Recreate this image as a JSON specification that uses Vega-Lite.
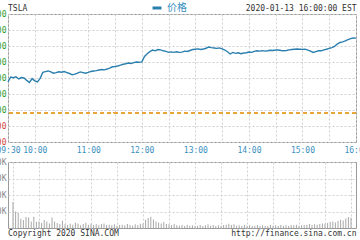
{
"$schema": "https://vega.github.io/schema/vega-lite/v6.json",
"background": "white",
"padding": {"left": -24, "right": -7, "top": 2, "bottom": 0},
"spacing": 2,
"title": {"text": "2020-01-13 16:00:00 EST", "anchor": "end", "offset": -10.5, "dx": -12},
"config": {
  "font": "DejaVu Sans Mono",
  "view": {"stroke": "#9a9a9a", "strokeWidth": 1},
  "axis": {"labelFont": "DejaVu Sans Mono", "labelFontSize": 8, "titleFont": "DejaVu Sans Mono", "titleFontSize": 8, "titleFontWeight": "normal", "titleColor": "#333333", "domain": false, "ticks": false, "gridColor": "#d0d0d0", "gridDash": [2, 2], "gridWidth": 1, "labelOverlap": false, "labelBound": false, "labelFlush": false},
  "title": {"font": "DejaVu Sans Mono", "fontSize": 8, "fontWeight": "normal", "color": "#333333"}
},
"data": {"values": [
{"t":"2020-01-13T09:30:00","p":497.5,"v":790},
{"t":"2020-01-13T09:33:00","p":500.6,"v":500},
{"t":"2020-01-13T09:36:00","p":500.2,"v":455},
{"t":"2020-01-13T09:39:00","p":500.8,"v":280},
{"t":"2020-01-13T09:42:00","p":499.4,"v":240},
{"t":"2020-01-13T09:45:00","p":500.3,"v":330},
{"t":"2020-01-13T09:48:00","p":500.0,"v":320},
{"t":"2020-01-13T09:51:00","p":498.5,"v":200},
{"t":"2020-01-13T09:54:00","p":497.2,"v":340},
{"t":"2020-01-13T09:57:00","p":499.6,"v":190},
{"t":"2020-01-13T10:00:00","p":498.2,"v":200},
{"t":"2020-01-13T10:03:00","p":497.5,"v":150},
{"t":"2020-01-13T10:06:00","p":499.8,"v":240},
{"t":"2020-01-13T10:09:00","p":503.5,"v":200},
{"t":"2020-01-13T10:12:00","p":504.0,"v":140},
{"t":"2020-01-13T10:15:00","p":504.4,"v":320},
{"t":"2020-01-13T10:18:00","p":503.8,"v":200},
{"t":"2020-01-13T10:21:00","p":503.0,"v":150},
{"t":"2020-01-13T10:24:00","p":503.4,"v":120},
{"t":"2020-01-13T10:27:00","p":503.9,"v":220},
{"t":"2020-01-13T10:30:00","p":503.6,"v":110},
{"t":"2020-01-13T10:33:00","p":504.0,"v":90},
{"t":"2020-01-13T10:36:00","p":503.4,"v":130},
{"t":"2020-01-13T10:39:00","p":502.8,"v":100},
{"t":"2020-01-13T10:42:00","p":502.0,"v":170},
{"t":"2020-01-13T10:45:00","p":502.4,"v":140},
{"t":"2020-01-13T10:48:00","p":503.1,"v":80},
{"t":"2020-01-13T10:51:00","p":503.8,"v":120},
{"t":"2020-01-13T10:54:00","p":503.4,"v":160},
{"t":"2020-01-13T10:57:00","p":503.0,"v":100},
{"t":"2020-01-13T11:00:00","p":503.5,"v":130},
{"t":"2020-01-13T11:03:00","p":504.1,"v":90},
{"t":"2020-01-13T11:06:00","p":504.4,"v":110},
{"t":"2020-01-13T11:09:00","p":504.6,"v":80},
{"t":"2020-01-13T11:12:00","p":505.0,"v":120},
{"t":"2020-01-13T11:15:00","p":505.3,"v":140},
{"t":"2020-01-13T11:18:00","p":505.1,"v":90},
{"t":"2020-01-13T11:21:00","p":505.6,"v":100},
{"t":"2020-01-13T11:24:00","p":506.2,"v":80},
{"t":"2020-01-13T11:27:00","p":507.0,"v":110},
{"t":"2020-01-13T11:30:00","p":507.2,"v":70},
{"t":"2020-01-13T11:33:00","p":507.5,"v":90},
{"t":"2020-01-13T11:36:00","p":508.0,"v":100},
{"t":"2020-01-13T11:39:00","p":508.6,"v":80},
{"t":"2020-01-13T11:42:00","p":508.9,"v":120},
{"t":"2020-01-13T11:45:00","p":509.4,"v":90},
{"t":"2020-01-13T11:48:00","p":509.1,"v":70},
{"t":"2020-01-13T11:51:00","p":509.6,"v":110},
{"t":"2020-01-13T11:54:00","p":510.0,"v":90},
{"t":"2020-01-13T11:57:00","p":509.8,"v":130},
{"t":"2020-01-13T12:00:00","p":510.1,"v":140},
{"t":"2020-01-13T12:03:00","p":513.5,"v":250},
{"t":"2020-01-13T12:06:00","p":515.2,"v":300},
{"t":"2020-01-13T12:09:00","p":516.5,"v":340},
{"t":"2020-01-13T12:12:00","p":517.5,"v":260},
{"t":"2020-01-13T12:15:00","p":517.0,"v":200},
{"t":"2020-01-13T12:18:00","p":517.8,"v":170},
{"t":"2020-01-13T12:21:00","p":517.6,"v":140},
{"t":"2020-01-13T12:24:00","p":517.0,"v":180},
{"t":"2020-01-13T12:27:00","p":516.6,"v":120},
{"t":"2020-01-13T12:30:00","p":516.0,"v":110},
{"t":"2020-01-13T12:33:00","p":516.3,"v":90},
{"t":"2020-01-13T12:36:00","p":516.0,"v":120},
{"t":"2020-01-13T12:39:00","p":516.4,"v":80},
{"t":"2020-01-13T12:42:00","p":516.0,"v":70},
{"t":"2020-01-13T12:45:00","p":516.2,"v":90},
{"t":"2020-01-13T12:48:00","p":516.8,"v":60},
{"t":"2020-01-13T12:51:00","p":516.6,"v":100},
{"t":"2020-01-13T12:54:00","p":517.2,"v":70},
{"t":"2020-01-13T12:57:00","p":517.8,"v":80},
{"t":"2020-01-13T13:00:00","p":518.0,"v":60},
{"t":"2020-01-13T13:03:00","p":518.2,"v":70},
{"t":"2020-01-13T13:06:00","p":517.8,"v":90},
{"t":"2020-01-13T13:09:00","p":518.1,"v":60},
{"t":"2020-01-13T13:12:00","p":518.6,"v":80},
{"t":"2020-01-13T13:15:00","p":519.4,"v":110},
{"t":"2020-01-13T13:18:00","p":519.0,"v":70},
{"t":"2020-01-13T13:21:00","p":518.75,"v":90},
{"t":"2020-01-13T13:24:00","p":518.5,"v":60},
{"t":"2020-01-13T13:27:00","p":518.8,"v":80},
{"t":"2020-01-13T13:30:00","p":518.2,"v":70},
{"t":"2020-01-13T13:33:00","p":517.5,"v":90},
{"t":"2020-01-13T13:36:00","p":516.4,"v":100},
{"t":"2020-01-13T13:39:00","p":515.0,"v":130},
{"t":"2020-01-13T13:42:00","p":516.0,"v":90},
{"t":"2020-01-13T13:45:00","p":515.4,"v":110},
{"t":"2020-01-13T13:48:00","p":515.8,"v":70},
{"t":"2020-01-13T13:51:00","p":515.2,"v":80},
{"t":"2020-01-13T13:54:00","p":515.6,"v":60},
{"t":"2020-01-13T13:57:00","p":515.8,"v":90},
{"t":"2020-01-13T14:00:00","p":516.2,"v":70},
{"t":"2020-01-13T14:03:00","p":516.0,"v":80},
{"t":"2020-01-13T14:06:00","p":516.6,"v":60},
{"t":"2020-01-13T14:09:00","p":517.0,"v":70},
{"t":"2020-01-13T14:12:00","p":516.8,"v":90},
{"t":"2020-01-13T14:15:00","p":517.1,"v":60},
{"t":"2020-01-13T14:18:00","p":516.8,"v":80},
{"t":"2020-01-13T14:21:00","p":517.0,"v":70},
{"t":"2020-01-13T14:24:00","p":517.3,"v":60},
{"t":"2020-01-13T14:27:00","p":517.2,"v":90},
{"t":"2020-01-13T14:30:00","p":517.5,"v":70},
{"t":"2020-01-13T14:33:00","p":517.5,"v":80},
{"t":"2020-01-13T14:36:00","p":517.2,"v":60},
{"t":"2020-01-13T14:39:00","p":517.0,"v":90},
{"t":"2020-01-13T14:42:00","p":517.2,"v":70},
{"t":"2020-01-13T14:45:00","p":517.6,"v":80},
{"t":"2020-01-13T14:48:00","p":517.8,"v":60},
{"t":"2020-01-13T14:51:00","p":518.0,"v":90},
{"t":"2020-01-13T14:54:00","p":518.1,"v":80},
{"t":"2020-01-13T14:57:00","p":518.0,"v":100},
{"t":"2020-01-13T15:00:00","p":517.9,"v":70},
{"t":"2020-01-13T15:03:00","p":518.0,"v":80},
{"t":"2020-01-13T15:06:00","p":517.4,"v":90},
{"t":"2020-01-13T15:09:00","p":516.8,"v":100},
{"t":"2020-01-13T15:12:00","p":516.0,"v":120},
{"t":"2020-01-13T15:15:00","p":516.5,"v":90},
{"t":"2020-01-13T15:18:00","p":517.0,"v":110},
{"t":"2020-01-13T15:21:00","p":517.0,"v":100},
{"t":"2020-01-13T15:24:00","p":517.6,"v":120},
{"t":"2020-01-13T15:27:00","p":518.0,"v":140},
{"t":"2020-01-13T15:30:00","p":518.5,"v":130},
{"t":"2020-01-13T15:33:00","p":519.0,"v":150},
{"t":"2020-01-13T15:36:00","p":519.8,"v":180},
{"t":"2020-01-13T15:39:00","p":521.2,"v":200},
{"t":"2020-01-13T15:42:00","p":522.2,"v":170},
{"t":"2020-01-13T15:45:00","p":522.6,"v":210},
{"t":"2020-01-13T15:48:00","p":523.2,"v":250},
{"t":"2020-01-13T15:51:00","p":524.0,"v":230},
{"t":"2020-01-13T15:54:00","p":524.6,"v":290},
{"t":"2020-01-13T15:57:00","p":525.0,"v":330},
{"t":"2020-01-13T16:00:00","p":524.9,"v":310}
]},
"vconcat": [
{
  "width": 348, "height": 128,
  "title": {"text": "TSLA", "anchor": "start", "frame": "group", "offset": -3},
  "layer": [
    {"mark": {"type": "line", "strokeWidth": 1.4},
     "encoding": {
       "x": {"field": "t", "type": "temporal",
             "scale": {"domain": ["2020-01-13T09:30:00", "2020-01-13T16:00:00"], "nice": false},
             "axis": {"orient": "bottom", "title": null, "tickCount": 13, "labelExpr": "(minutes(datum.value) == 0 || hours(datum.value) == 9) ? timeFormat(datum.value, '%H:%M') : ''", "labelColor": "#3a8fc0", "labelPadding": 4.5, "grid": true}},
       "y": {"field": "p", "type": "quantitative",
             "scale": {"domain": [460, 540], "nice": false, "zero": false},
             "axis": {"orient": "left", "title": null, "values": [460, 470, 480, 490, 500, 510, 520, 530, 540], "format": ".2f", "labelPadding": 2, "labelOverlap": false, "grid": true,
                      "labelColor": {"condition": {"test": "datum.value > 478.15", "value": "#2e9a30"}, "value": "#d04545"}}},
       "color": {"datum": "价格", "type": "nominal", "scale": {"range": ["#2b7fae"]},
                 "legend": {"orient": "none", "legendX": 143, "legendY": -12, "title": null, "symbolType": "stroke", "symbolStrokeWidth": 3, "symbolSize": 80, "labelFont": "Noto Sans CJK SC", "labelFontSize": 10, "labelColor": "#3a8fc0", "padding": 0}}
     }},
    {"mark": {"type": "rule", "color": "#eaa53a", "strokeDash": [4, 3], "strokeWidth": 1},
     "encoding": {"y": {"datum": 478.15, "type": "quantitative", "axis": null}}}
  ],
  "resolve": {"axis": {"y": "independent"}}
},
{
  "width": 348, "height": 66,
  "title": {"text": "Copyright 2020 SINA.COM", "orient": "bottom", "anchor": "start", "frame": "group", "offset": -8},
  "mark": {"type": "bar", "color": "#a8a8a8", "size": 1},
  "encoding": {
    "x": {"field": "t", "type": "temporal",
          "scale": {"domain": ["2020-01-13T09:30:00", "2020-01-13T16:00:00"], "nice": false},
          "axis": {"title": "http://finance.sina.com.cn", "titleAnchor": "end", "titlePadding": 1.5, "labels": false, "grid": true, "tickCount": 13}},
    "y": {"field": "v", "type": "quantitative",
          "scale": {"domain": [0, 2000], "nice": false},
          "axis": {"title": null, "values": [500, 1000, 1500, 2000], "labelExpr": "datum.value + 'K'", "labelColor": "#888888", "labelPadding": 2, "grid": true}}
  }
}
]
}
